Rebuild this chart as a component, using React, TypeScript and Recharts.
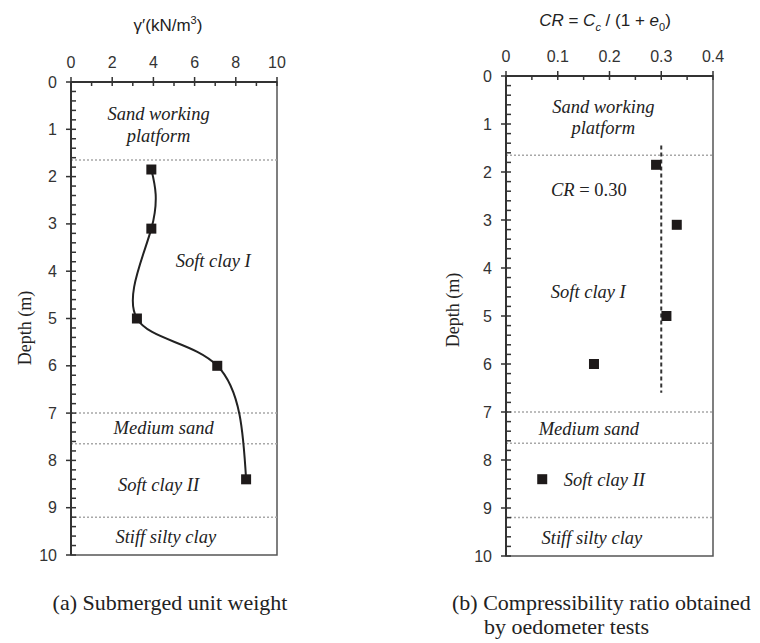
import {
  ComposedChart,
  Line,
  ReferenceArea,
  ReferenceLine,
  Scatter,
  XAxis,
  YAxis,
} from "recharts";

// panel (a): submerged unit weight vs depth
const gammaValues = [3.9, 3.9, 3.2, 7.1, 8.5];
const gammaDepths = [1.85, 3.1, 5.0, 6.0, 8.4];

// panel (b): compressibility ratio vs depth
const crValues = [0.29, 0.33, 0.31, 0.17, 0.07];
const crDepths = [1.85, 3.1, 5.0, 6.0, 8.4];
const crDesign = 0.3;
const crDesignDepths = [1.45, 6.6];

// layer boundaries (m)
const layerBounds = [1.65, 7.0, 7.65, 9.2];

const depthTicks = [0, 1, 2, 3, 4, 5, 6, 7, 8, 9, 10];
const gammaTicks = [0, 2, 4, 6, 8, 10];
const crTicks = [0, 0.1, 0.2, 0.3, 0.4];

const leftLabels = [
  { x: 4.25, depth: 0.68, text: "Sand working" },
  { x: 4.25, depth: 1.14, text: "platform" },
  { x: 6.9, depth: 3.78, text: "Soft clay I" },
  { x: 4.5, depth: 7.32, text: "Medium sand" },
  { x: 4.25, depth: 8.52, text: "Soft clay II" },
  { x: 4.6, depth: 9.62, text: "Stiff silty clay" },
];

const rightLabels = [
  { x: 0.188, depth: 0.65, text: "Sand working" },
  { x: 0.188, depth: 1.08, text: "platform" },
  { x: 0.16, depth: 2.38, text: "CR = 0.30" },
  { x: 0.159, depth: 4.5, text: "Soft clay I" },
  { x: 0.16, depth: 7.35, text: "Medium sand" },
  { x: 0.19, depth: 8.42, text: "Soft clay II" },
  { x: 0.166, depth: 9.63, text: "Stiff silty clay" },
];

const SANS = "'Liberation Sans', Arial, sans-serif";
const SERIF = "'Liberation Serif', 'Times New Roman', serif";
const AXIS = "#333";

const withMinor = (max: number, step: number) => {
  const out: number[] = [];
  for (let k = 0; k * step <= max + 1e-9; k++) out.push(Math.round(k * step * 1000) / 1000);
  return out;
};

const isMajor = (v: number, majors: number[]) =>
  majors.some((m) => Math.abs(m - v) < 1e-6);

const makeYTick = (majors: number[]) => (props: any) => {
  const { x, y, payload } = props;
  const major = isMajor(payload.value, majors);
  return (
    <g>
      <line x1={major ? x - 5 : x} x2={x + 5} y1={y} y2={y} stroke={AXIS} strokeWidth={1.5} />
      {major && (
        <text x={x - 14} y={y} textAnchor="end" dominantBaseline="central" fontFamily={SANS} fontSize={16} fill="#333">
          {payload.value}
        </text>
      )}
    </g>
  );
};

const makeXTick = (majors: number[]) => (props: any) => {
  const { x, y, payload } = props;
  const major = isMajor(payload.value, majors);
  return (
    <g>
      <line x1={x} x2={x} y1={major ? y - 5 : y} y2={y + 4} stroke={AXIS} strokeWidth={1.5} />
      {major && (
        <text x={x} y={y - 20} textAnchor="middle" dominantBaseline="central" fontFamily={SANS} fontSize={16} fill="#333">
          {payload.value}
        </text>
      )}
    </g>
  );
};

const Square = (props: any) => {
  const { cx, cy } = props;
  if (cx == null || cy == null) return <g />;
  return <rect x={cx - 5} y={cy - 5} width={10} height={10} fill="#1e1a1a" />;
};

const LayerText = (props: any) => {
  const { cx, cy, payload } = props;
  const t: string = payload.text;
  if (t.startsWith("CR")) {
    return (
      <text x={cx} y={cy} textAnchor="middle" dominantBaseline="central" fontFamily={SERIF} fontSize={18.5} fill="#222">
        <tspan fontStyle="italic">CR</tspan>
        <tspan> = 0.30</tspan>
      </text>
    );
  }
  return (
    <text x={cx} y={cy} textAnchor="middle" dominantBaseline="central" fontFamily={SERIF} fontStyle="italic" fontSize={18.5} fill="#222">
      {t}
    </text>
  );
};

const leftData = gammaValues.map((g, i) => ({ x: g, depth: gammaDepths[i] }));
const rightData = crValues.map((c, i) => ({ x: c, depth: crDepths[i] }));
const crLine = crDesignDepths.map((d) => ({ x: crDesign, y: d }));

function Panel({
  xMax,
  majors,
  minorStep,
  margin,
  children,
}: {
  xMax: number;
  majors: number[];
  minorStep: number;
  margin: { top: number; right: number; bottom: number; left: number };
  children: React.ReactNode;
}) {
  return (
    <ComposedChart width={380} height={643} margin={margin}>
      <XAxis
        type="number"
        dataKey="x"
        orientation="top"
        domain={[0, xMax]}
        ticks={withMinor(xMax, minorStep)}
        interval={0}
        height={30}
        tickSize={0}
        tickMargin={0}
        tickLine={false}
        tick={makeXTick(majors)}
        axisLine={{ stroke: AXIS, strokeWidth: 2 }}
        allowDataOverflow
      />
      <YAxis
        type="number"
        dataKey="depth"
        reversed
        domain={[0, 10]}
        ticks={withMinor(10, 0.2)}
        interval={0}
        width={40}
        tickSize={0}
        tickMargin={0}
        tickLine={false}
        tick={makeYTick(depthTicks)}
        axisLine={{ stroke: AXIS, strokeWidth: 2 }}
        allowDataOverflow
      />
      <ReferenceArea x1={0} x2={xMax} y1={0} y2={10} fill="none" stroke="#555" strokeWidth={1.5} />
      {layerBounds.map((d) => (
        <ReferenceLine key={d} y={d} stroke="#a8a8a8" strokeWidth={1.5} strokeDasharray="2 2" />
      ))}
      {children}
    </ComposedChart>
  );
}

export default function App() {
  return (
    <div style={{ position: "absolute", left: 0, top: 0, width: 760, height: 643, background: "#fff" }}>
      <div style={{ position: "absolute", left: 0, top: 0 }}>
        <Panel xMax={10} majors={gammaTicks} minorStep={1} margin={{ top: 52, right: 103, bottom: 88, left: 31 }}>
          <Line
            data={leftData}
            dataKey="depth"
            type="natural"
            stroke="#222"
            strokeWidth={2}
            dot={<Square />}
            activeDot={false}
            isAnimationActive={false}
          />
          <Scatter data={leftLabels} shape={<LayerText />} isAnimationActive={false} />
        </Panel>
      </div>
      <div style={{ position: "absolute", left: 380, top: 0 }}>
        <Panel xMax={0.4} majors={crTicks} minorStep={0.05} margin={{ top: 46, right: 47, bottom: 87, left: 86 }}>
          <ReferenceLine segment={crLine} stroke="#333" strokeWidth={2} strokeDasharray="4 3" />
          <Scatter data={rightData} shape={<Square />} isAnimationActive={false} />
          <Scatter data={rightLabels} shape={<LayerText />} isAnimationActive={false} />
        </Panel>
      </div>

      {/* axis titles */}
      <div style={{ position: "absolute", left: 168, top: 25, transform: "translate(-50%, -50%)", fontFamily: SANS, fontSize: 17, color: "#222", whiteSpace: "nowrap" }}>
        γ′(kN/m<sup style={{ fontSize: 11 }}>3</sup>)
      </div>
      <div style={{ position: "absolute", left: 605, top: 22, transform: "translate(-50%, -50%)", fontFamily: SANS, fontSize: 17, color: "#222", whiteSpace: "nowrap" }}>
        <i>CR</i> = <i>C</i><sub style={{ fontSize: 11 }}><i>c</i></sub> / (1 + <i>e</i><sub style={{ fontSize: 11 }}>0</sub>)
      </div>
      <div style={{ position: "absolute", left: 25, top: 328, transform: "translate(-50%, -50%) rotate(-90deg)", fontFamily: SERIF, fontSize: 18, color: "#222", whiteSpace: "nowrap" }}>
        Depth (m)
      </div>
      <div style={{ position: "absolute", left: 453, top: 310, transform: "translate(-50%, -50%) rotate(-90deg)", fontFamily: SERIF, fontSize: 18, color: "#222", whiteSpace: "nowrap" }}>
        Depth (m)
      </div>

      {/* captions */}
      <div style={{ position: "absolute", left: 170, top: 603, transform: "translate(-50%, -50%)", fontFamily: SERIF, fontSize: 22, color: "#222", whiteSpace: "nowrap" }}>
        (a) Submerged unit weight
      </div>
      <div style={{ position: "absolute", left: 452, top: 591, fontFamily: SERIF, fontSize: 22, color: "#222", whiteSpace: "nowrap", lineHeight: "24px" }}>
        (b) Compressibility ratio obtained
        <br />
        <span style={{ paddingLeft: 32 }}>by oedometer tests</span>
      </div>
    </div>
  );
}
